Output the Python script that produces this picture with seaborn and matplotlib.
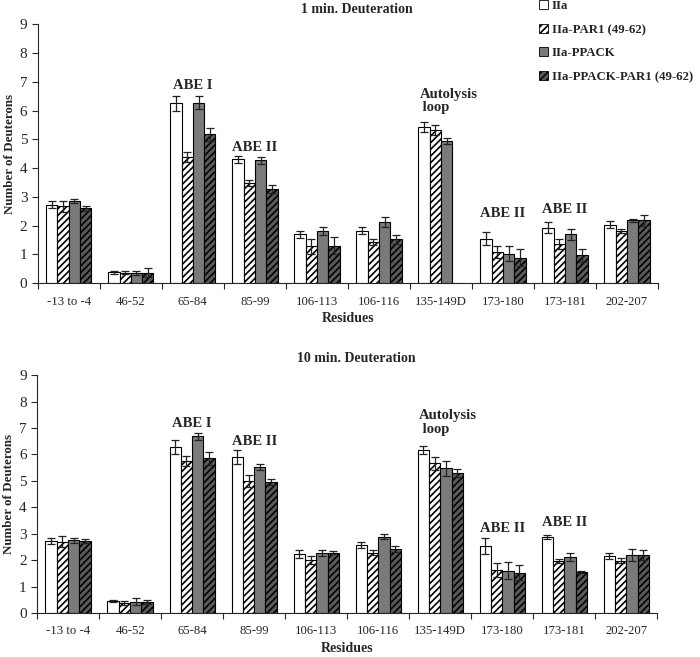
import numpy as np
import pandas as pd
import seaborn as sns
from matplotlib import pyplot as plt
from matplotlib.patches import Patch

residues = ['-13 to -4', '46-52', '65-84', '85-99', '106-113', '106-116',
            '135-149D', '173-180', '173-181', '202-207']
samples = ['IIa', 'IIa-PAR1 (49-62)', 'IIa-PPACK', 'IIa-PPACK-PAR1 (49-62)']

# 1 min deuteration
min1_iia = [2.72, 0.38, 6.25, 4.30, 1.70, 1.82, 5.43, 1.55, 1.93, 2.03]
min1_par1 = [2.67, 0.37, 4.38, 3.47, 1.28, 1.43, 5.33, 1.08, 1.35, 1.82]
min1_ppack = [2.85, 0.36, 6.28, 4.28, 1.82, 2.12, 4.95, 1.03, 1.70, 2.18]
min1_ppack_par1 = [2.60, 0.37, 5.18, 3.27, 1.30, 1.52, 0.0, 0.88, 0.97, 2.18]
min1_iia_err = [0.12, 0.05, 0.25, 0.12, 0.12, 0.12, 0.18, 0.22, 0.18, 0.12]
min1_par1_err = [0.18, 0.05, 0.17, 0.10, 0.25, 0.10, 0.18, 0.20, 0.17, 0.07]
min1_ppack_err = [0.08, 0.06, 0.22, 0.12, 0.15, 0.18, 0.10, 0.25, 0.20, 0.05]
min1_ppack_par1_err = [0.08, 0.15, 0.23, 0.15, 0.30, 0.15, np.nan, 0.30, 0.22, 0.20]

# 10 min deuteration
min10_iia = [2.72, 0.45, 6.28, 5.90, 2.22, 2.57, 6.17, 2.54, 2.87, 2.16]
min10_par1 = [2.70, 0.38, 5.75, 5.00, 2.00, 2.28, 5.67, 1.63, 1.98, 1.98]
min10_ppack = [2.75, 0.43, 6.68, 5.52, 2.27, 2.89, 5.47, 1.60, 2.11, 2.20]
min10_ppack_par1 = [2.72, 0.42, 5.85, 4.95, 2.28, 2.41, 5.31, 1.53, 1.55, 2.20]
min10_iia_err = [0.10, 0.03, 0.25, 0.25, 0.15, 0.12, 0.15, 0.30, 0.08, 0.10]
min10_par1_err = [0.22, 0.06, 0.20, 0.22, 0.15, 0.10, 0.25, 0.25, 0.07, 0.10]
min10_ppack_err = [0.10, 0.12, 0.12, 0.10, 0.10, 0.10, 0.30, 0.32, 0.15, 0.22]
min10_ppack_par1_err = [0.08, 0.07, 0.25, 0.12, 0.06, 0.12, 0.15, 0.30, 0.05, 0.20]

# annotations: (text, residue index, y centre)
min1_notes = [('ABE I', 2, 6.87), ('ABE II', 3, 4.73), ('ABE II', 7, 2.43), ('ABE II', 8, 2.57)]
min10_notes = [('ABE I', 2, 7.18), ('ABE II', 3, 6.49), ('ABE II', 7, 3.18), ('ABE II', 8, 3.42)]
min1_loop_y = 6.33
min10_loop_y = 7.21

colors = ['white', 'white', '#7a7a7a', '#5a5a5a']
hatches = [None, '/////', None, '/////']

sns.set_style('ticks')
plt.rcParams['font.family'] = ['Liberation Serif', 'DejaVu Serif']
plt.rcParams['hatch.linewidth'] = 1.2
plt.rcParams['hatch.color'] = 'black'


def draw(ax, vals, errs, title, notes, loop_y, title_pad):
    df = pd.DataFrame({
        'Residues': np.repeat([residues], 4, axis=0).ravel(),
        'Sample': np.repeat(samples, len(residues)),
        'Deuterons': np.concatenate(vals),
    })
    sns.barplot(data=df, x='Residues', y='Deuterons', hue='Sample',
                order=residues, hue_order=samples, palette=colors,
                edgecolor='black', linewidth=0.8, width=0.73,
                errorbar=None, legend=False, ax=ax, saturation=1)
    for cont, h, err in zip(ax.containers, hatches, errs):
        xs, ys = [], []
        for bar in cont:
            if h:
                bar.set_hatch(h)
            xs.append(bar.get_x() + bar.get_width() / 2)
            ys.append(bar.get_height())
        ax.errorbar(xs, ys, yerr=err, fmt='none', ecolor='#222222',
                    elinewidth=0.9, capsize=3, capthick=0.9)
    ax.set_xlim(-0.5, 9.5)
    ax.set_ylim(0, 9)
    ax.set_yticks(range(0, 10))
    ax.set_xticks(np.arange(-0.5, 10, 1))
    ax.set_xticklabels([])
    ax.set_xticks(range(10), minor=True)
    ax.set_xticklabels(residues, minor=True, fontsize=9.2)
    ax.tick_params(axis='x', which='minor', length=0, pad=9)
    ax.tick_params(axis='x', which='major', length=4)
    ax.tick_params(axis='y', labelsize=11, length=4)
    sns.despine(ax=ax)
    ax.set_xlabel('Residues', fontweight='bold', fontsize=10, labelpad=3)
    ax.set_ylabel('Number of Deuterons', fontweight='bold', fontsize=9.4, labelpad=3)
    ax.set_title(title, fontweight='bold', fontsize=10, x=0.515, pad=title_pad)
    for txt, i, y in notes:
        ax.text(i, y, txt, ha='center', va='center', fontweight='bold', fontsize=10.5)
    ax.text(6.12, loop_y, 'Autolysis\n loop', ha='center', va='center',
            fontweight='bold', fontsize=10.5, multialignment='left', linespacing=1.05)


fig = plt.figure(figsize=(7, 6.57), dpi=100)
ax1 = fig.add_axes([0.054, 0.569, 0.886, 0.394])
ax2 = fig.add_axes([0.053, 0.067, 0.886, 0.362])

draw(ax1, [min1_iia, min1_par1, min1_ppack, min1_ppack_par1],
     [min1_iia_err, min1_par1_err, min1_ppack_err, min1_ppack_par1_err],
     '1 min. Deuteration', min1_notes, min1_loop_y, 8)
draw(ax2, [min10_iia, min10_par1, min10_ppack, min10_ppack_par1],
     [min10_iia_err, min10_par1_err, min10_ppack_err, min10_ppack_par1_err],
     '10 min. Deuteration', min10_notes, min10_loop_y, 9.5)

handles = [Patch(facecolor=c, edgecolor='black', hatch=h, linewidth=0.6, label=s)
           for c, h, s in zip(colors, hatches, samples)]
fig.legend(handles=handles, loc='upper right', bbox_to_anchor=(1.006, 1.017),
           frameon=False, prop={'weight': 'bold', 'size': 9.2},
           handlelength=0.7, handleheight=0.7, handletextpad=0.3, labelspacing=0.9)

fig.savefig('out.png', dpi=100)
